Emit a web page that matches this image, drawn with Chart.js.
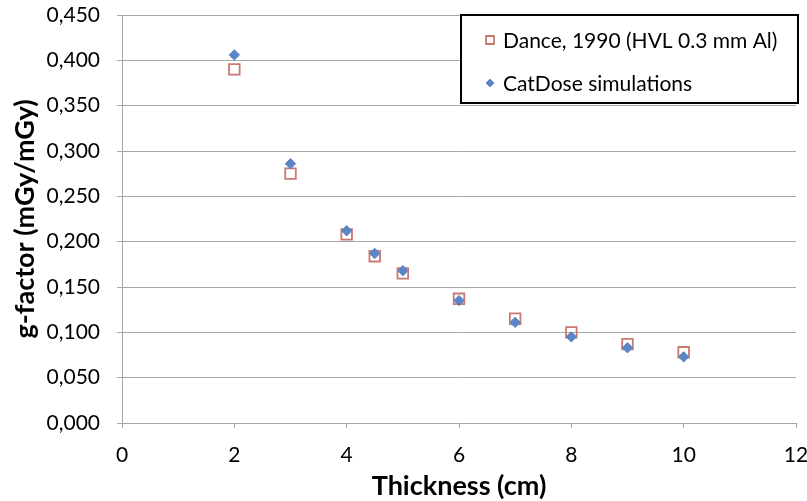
<!DOCTYPE html>
<html lang="en">
<head>
    <meta charset="UTF-8">
    <title>g-factor vs thickness</title>
    <script src="https://cdn.jsdelivr.net/npm/chart.js"></script>
    <style>
        html, body { margin: 0; padding: 0; background: #fff; }
        #wrap { width: 807px; height: 501px; }
    </style>
</head>
<body>
    <div id="wrap"><canvas id="gChart"></canvas></div>

    <script>
        // thickness in cm
        const thickness = [2, 3, 4, 4.5, 5, 6, 7, 8, 9, 10];
        // Dance, 1990 (HVL 0.3 mm Al)
        const danceValues = [0.390, 0.275, 0.208, 0.184, 0.165, 0.137, 0.115, 0.100, 0.087, 0.078];
        // CatDose simulations
        const catDoseValues = [0.406, 0.286, 0.212, 0.187, 0.168, 0.135, 0.111, 0.095, 0.083, 0.073];

        const seriesLabels = ['Dance, 1990 (HVL 0.3 mm Al)', 'CatDose simulations'];
        const xTitle = 'Thickness (cm)';
        const yTitle = 'g-factor (mGy/mGy)';

        const FONT = 'Lato, "Open Sans", sans-serif';

        function toPoints(xs, ys) {
            return xs.map((x, i) => ({ x: x, y: ys[i] }));
        }

        // legend box drawn inside the plot, top right
        const boxLegend = {
            id: 'boxLegend',
            afterDraw(chart) {
                const ctx = chart.ctx;
                const left = 461, top = 15, right = 798, bottom = 103;
                ctx.save();
                ctx.fillStyle = '#fff';
                ctx.fillRect(left, top, right - left, bottom - top);
                ctx.lineWidth = 2;
                ctx.strokeStyle = '#000';
                ctx.strokeRect(left, top, right - left, bottom - top);
                ctx.font = '21px ' + FONT;
                ctx.textBaseline = 'middle';
                const rows = [40, 83];
                const mx = 490;
                chart.data.datasets.forEach((ds, i) => {
                    const r = ds.pointRadius * 0.75;
                    ctx.fillStyle = ds.backgroundColor;
                    ctx.strokeStyle = ds.borderColor;
                    ctx.lineWidth = ds.borderWidth;
                    ctx.beginPath();
                    if (ds.pointStyle === 'rect') {
                        const s = r * Math.SQRT1_2;
                        ctx.rect(mx - s, rows[i] - s, 2 * s, 2 * s);
                    } else {
                        ctx.moveTo(mx - r, rows[i]);
                        ctx.lineTo(mx, rows[i] - r);
                        ctx.lineTo(mx + r, rows[i]);
                        ctx.lineTo(mx, rows[i] + r);
                        ctx.closePath();
                    }
                    ctx.fill();
                    ctx.stroke();
                    ctx.fillStyle = '#000';
                    ctx.fillText(ds.label, 503, rows[i] + 1);
                });
                ctx.restore();
            }
        };

        const ctx = document.getElementById('gChart').getContext('2d');
        new Chart(ctx, {
            type: 'scatter',
            data: {
                datasets: [
                    {
                        label: seriesLabels[0],
                        data: toPoints(thickness, danceValues),
                        order: 1, // squares under the diamonds
                        pointStyle: 'rect',
                        pointRadius: 7.5,
                        backgroundColor: 'rgba(255,255,255,0)',
                        borderColor: '#C9796F',
                        borderWidth: 1.8
                    },
                    {
                        label: seriesLabels[1],
                        data: toPoints(thickness, catDoseValues),
                        order: 0,
                        pointStyle: 'rectRot',
                        pointRadius: 5.2,
                        backgroundColor: '#5B86C5',
                        borderColor: '#5B86C5',
                        borderWidth: 1
                    }
                ]
            },
            options: {
                responsive: true,
                maintainAspectRatio: false,
                animation: false,
                layout: { padding: { top: 15, right: 0, left: 0, bottom: 0 } },
                plugins: {
                    legend: { display: false },
                    tooltip: { enabled: false }
                },
                scales: {
                    x: {
                        type: 'linear',
                        min: 0,
                        max: 12,
                        afterFit: s => { s.height = 78; s.paddingRight = 11; s.paddingLeft = 0; },
                        ticks: {
                            stepSize: 2,
                            color: '#000',
                            font: { family: FONT, size: 21 },
                            padding: 15
                        },
                        grid: {
                            drawOnChartArea: false,
                            drawTicks: true,
                            tickLength: 5,
                            color: '#a6a6a6'
                        },
                        border: { color: '#a6a6a6', width: 1 },
                        title: {
                            display: true,
                            text: xTitle,
                            color: '#000',
                            font: { family: FONT, size: 27, weight: 'bold' },
                            padding: { top: 0, bottom: -1 }
                        }
                    },
                    y: {
                        min: 0,
                        max: 0.45,
                        afterFit: s => { s.width = 122; s.paddingTop = 0; s.paddingBottom = 0; },
                        ticks: {
                            stepSize: 0.05,
                            color: '#000',
                            font: { family: FONT, size: 21 },
                            padding: 17,
                            callback: v => v.toFixed(3).replace('.', ',')
                        },
                        grid: {
                            color: '#a6a6a6',
                            drawTicks: true,
                            tickLength: 5
                        },
                        border: { color: '#a6a6a6', width: 1 },
                        title: {
                            display: true,
                            text: yTitle,
                            color: '#000',
                            font: { family: FONT, size: 27, weight: 'bold' },
                            padding: { top: 9, bottom: 0 }
                        }
                    }
                }
            },
            plugins: [boxLegend]
        });
    </script>
</body>
</html>
